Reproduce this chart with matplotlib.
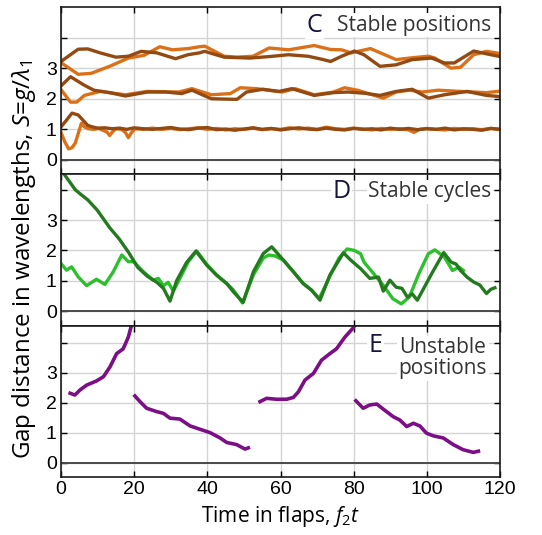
import matplotlib
matplotlib.use("Agg")
import matplotlib.pyplot as plt

# ---- panel C: stable positions (three pairs of wings) ----
c_top_dark_t = [0, 4.7, 7.3, 10.7, 15, 18.4, 21.9, 26.2, 31.3, 34.7, 37.8, 39.3, 44.6, 51.6, 57, 62.2,
                67.5, 71, 73.7, 76.7, 80.2, 82.8, 87.2, 91.6, 96, 101.3, 104.8, 107.5, 112.8, 116.3, 120]
c_top_dark_S = [3.22, 3.62, 3.63, 3.5, 3.36, 3.39, 3.55, 3.5, 3.31, 3.44, 3.5, 3.55, 3.36, 3.33, 3.38, 3.44,
                3.39, 3.3, 3.22, 3.39, 3.56, 3.44, 3.06, 3.11, 3.28, 3.33, 3.17, 3.17, 3.56, 3.47, 3.38]

c_top_orange_t = [0, 4.7, 8.2, 13.3, 18.4, 22.7, 27, 30.5, 34.7, 37.8, 39.3, 44.6, 48, 52.5, 56.9, 62.2,
                  69.2, 73.7, 76.7, 79.3, 84.6, 91.6, 96, 100.4, 102.2, 106.6, 109.2, 112.8, 116.3, 120]
c_top_orange_S = [3.18, 2.8, 2.83, 3.06, 3.33, 3.42, 3.7, 3.6, 3.64, 3.7, 3.72, 3.39, 3.36, 3.39, 3.66, 3.6,
                  3.74, 3.61, 3.6, 3.5, 3.64, 3.28, 3.34, 3.39, 3.33, 3.0, 3.03, 3.44, 3.55, 3.48]

c_mid_dark_t = [0, 2.6, 6.4, 9, 13.3, 17.6, 23.6, 28.7, 33, 35.8, 41.1, 48.1, 50.7, 55.2, 59.6, 63.1,
                69.2, 74.5, 78.4, 83, 87.2, 91.6, 96, 100.4, 104.8, 111, 116.3, 120]
c_mid_dark_S = [2.42, 2.72, 2.44, 2.28, 2.2, 2.09, 2.22, 2.22, 2.17, 2.28, 2.0, 1.98, 2.22, 2.31, 2.24, 2.33,
                2.11, 2.2, 2.22, 2.18, 2.11, 2.24, 2.31, 2.02, 2.13, 2.24, 2.11, 2.07]

c_mid_orange_t = [0, 2.6, 4.3, 6.4, 10.7, 17.6, 23.6, 32.2, 35.8, 41.1, 46.3, 49, 53.4, 60.4, 64,
                  69.2, 74.5, 77.5, 81, 88.1, 91.6, 95.2, 98.7, 103.1, 109.2, 116.3, 120]
c_mid_orange_S = [2.3, 1.89, 1.89, 2.11, 2.24, 2.13, 2.24, 2.22, 2.33, 2.13, 2.17, 2.36, 2.33, 2.22, 2.33,
                  2.13, 2.22, 2.36, 2.28, 2.02, 2.22, 2.28, 2.22, 2.28, 2.24, 2.2, 2.25]

c_low_dark_t = [0, 1.5, 3, 4.7, 6, 7.3, 8.6, 10, 12, 14, 16, 18, 20, 22.5, 25, 27.5, 30, 32.5, 35, 37.5,
                40, 42.5, 45, 47.5, 50, 52.5, 55, 57.5, 60, 62.5, 65, 67.5, 70, 72.5, 75, 77.5, 80, 82.5,
                85, 87.5, 90, 92.5, 95, 97.5, 100, 102.5, 105, 107.5, 110, 112.5, 115, 117.5, 120]
c_low_dark_S = [1.08, 1.3, 1.53, 1.47, 1.3, 1.13, 1.08, 1.04, 1.05, 1.02, 1.04, 1.0, 1.05, 1.02, 1.0, 1.03,
                1.06, 1.01, 0.99, 1.04, 1.06, 0.99, 1.01, 0.97, 1.01, 1.05, 1.0, 1.03, 0.98, 1.02, 1.05,
                1.01, 0.99, 1.04, 1.0, 0.98, 1.03, 1.0, 1.02, 0.98, 1.04, 1.0, 1.03, 0.99, 1.02, 1.0, 1.04,
                0.98, 1.02, 1.0, 0.97, 1.03, 1.0]

c_low_orange_t = [0, 1, 2.1, 3, 3.9, 4.8, 5.6, 6.4, 7.5, 9, 10.3, 11.6, 12.5, 13.3, 14.1, 15, 16.5, 17.6,
                  18.4, 19.2, 20.2, 22.5, 25, 27.5, 30, 32.5, 35, 37.5, 40, 42.5, 45, 47.5, 50, 52.5, 55,
                  57.5, 60, 62.5, 65, 67.5, 70, 72.5, 75, 77.5, 80, 82.5, 85, 87.5, 90, 92.5, 95, 96.5,
                  98, 100, 102.5, 105, 107.5, 110, 112.5, 115, 117.5, 120]
c_low_orange_S = [0.9, 0.6, 0.36, 0.4, 0.55, 0.9, 1.2, 1.08, 1.02, 1.0, 1.03, 0.96, 0.92, 0.8, 0.92, 1.02,
                  1.0, 0.9, 0.73, 0.88, 1.02, 1.0, 1.04, 1.0, 1.03, 0.99, 1.02, 1.05, 1.0, 1.03, 0.98, 1.02,
                  1.0, 1.04, 0.99, 1.02, 1.0, 1.05, 1.01, 1.04, 1.0, 1.07, 1.02, 1.0, 1.04, 1.01, 0.98,
                  1.03, 1.0, 1.02, 0.98, 0.9, 1.0, 1.03, 1.0, 0.98, 1.03, 1.0, 1.02, 0.99, 1.03, 1.0]

# ---- panel D: stable cycles ----
d_dark_t = [0.6, 3.9, 5.6, 7.3, 9.9, 13.3, 15.9, 18.4, 21, 23.6, 26.2, 28, 29.8, 31.6, 34.3, 36.9,
            39.8, 42.5, 45.3, 47.1, 49.8, 52.6, 55.3, 57.6, 60.8, 63.5, 66.2, 68.5, 70.8, 73.5, 77.2,
            79.3, 81.9, 84.4, 86.8, 88.1, 89.9, 91.6, 93.2, 94.7, 96, 97.4, 99.6, 101.3, 104.6, 106.6,
            108, 109.2, 111, 112.8, 114.5, 116.3, 117.5, 118.6]
d_dark_S = [4.56, 4.0, 3.83, 3.67, 3.33, 2.75, 2.38, 1.95, 1.44, 1.15, 0.95, 0.75, 0.33, 1.0, 1.6, 1.98,
            1.52, 1.19, 0.91, 0.64, 0.29, 1.3, 1.9, 2.12, 1.68, 1.3, 0.91, 0.69, 0.36, 1.19, 1.92,
            1.67, 1.4, 1.08, 1.12, 0.66, 1.02, 0.79, 0.75, 0.46, 0.57, 0.36, 0.85, 1.23, 1.93, 1.62,
            1.55, 1.34, 1.12, 0.96, 0.86, 0.58, 0.72, 0.77]

d_light_t = [0, 1.5, 2.9, 4.7, 7, 9.7, 12, 14.3, 16.6, 18.4, 19.8, 22.5, 25.2, 26.6, 28, 29.3, 30.7,
             32.5, 34.8, 37.1, 39.8, 42.5, 45.3, 47.1, 49.6, 52.6, 55.3, 56.8, 58.5, 60.8, 63.5, 66.2,
             68.5, 70.6, 73.5, 76, 78.2, 80.2, 81.9, 82.8, 85.5, 88.1, 90.7, 93, 95.2, 97.8, 100.4,
             102.2, 104.8, 107, 108.8, 110]
d_light_S = [1.57, 1.35, 1.46, 1.13, 0.84, 1.05, 0.88, 1.3, 1.85, 1.63, 1.63, 1.3, 1.02, 1.08, 0.84,
             0.95, 0.66, 1.08, 1.63, 1.98, 1.55, 1.19, 0.91, 0.7, 0.27, 1.2, 1.75, 1.85, 1.82, 1.68,
             1.3, 0.91, 0.69, 0.42, 1.15, 1.75, 2.05, 2.0, 1.89, 1.62, 1.23, 0.85, 0.41, 0.24, 0.46,
             1.23, 1.89, 2.02, 1.78, 1.34, 1.45, 1.34]

# ---- panel E: unstable positions (four separate runs) ----
e_runs_t = [
    [2.5, 3.8, 5.2, 7, 9.7, 11.6, 13.4, 15.2, 17, 18.4, 19.3],
    [20.2, 21.6, 23.4, 26.1, 28, 29.8, 32.5, 35.3, 38, 40.7, 43.5, 45.3, 48, 50.3, 51.2],
    [54.4, 56.2, 58.9, 61.7, 63.5, 64.9, 66.7, 69, 71.2, 73.5, 75.3, 77.6, 79.9, 80.3],
    [80.6, 82.6, 84.4, 86.3, 88.1, 90.8, 92.6, 94.5, 96.3, 98.1, 99.9, 101.8, 104.5, 107.2,
     109.9, 112.7, 114.1],
]
e_runs_S = [
    [2.32, 2.26, 2.43, 2.59, 2.73, 2.87, 3.2, 3.64, 3.8, 4.19, 4.6],
    [2.23, 2.04, 1.82, 1.71, 1.65, 1.49, 1.46, 1.23, 1.12, 1.01, 0.83, 0.68, 0.61, 0.46, 0.5],
    [2.04, 2.15, 2.12, 2.12, 2.18, 2.37, 2.76, 2.98, 3.42, 3.64, 3.8, 4.19, 4.5, 4.6],
    [2.07, 1.82, 1.93, 1.96, 1.79, 1.54, 1.43, 1.21, 1.32, 1.23, 0.99, 0.9, 0.83, 0.61,
     0.44, 0.35, 0.39],
]

xticks = [0, 20, 40, 60, 80, 100, 120]
yticks = [0, 1, 2, 3, 4]
ytick_labels = ["0", "1", "2", "3", ""]

dark_brown = "#934a12"
orange = "#dc7018"
dark_green = "#237a1f"
light_green = "#2cc02c"
purple = "#7d0f86"

plt.rcParams["font.family"] = ["Liberation Sans", "DejaVu Sans"]
plt.rcParams["mathtext.fontset"] = "custom"
plt.rcParams["mathtext.it"] = "Open Sans:italic"
plt.rcParams["mathtext.rm"] = "Open Sans"
label_font = ["Open Sans", "DejaVu Sans"]

fig = plt.figure(figsize=(5.42, 5.35), dpi=100)
left, width = 61 / 542, 439 / 542
ax_c = fig.add_axes([left, 1 - 174 / 535, width, 167 / 535])
ax_d = fig.add_axes([left, 1 - 326 / 535, width, 152 / 535])
ax_e = fig.add_axes([left, 1 - 477 / 535, width, 151 / 535])


def style_axis(ax, ylim, show_x):
    ax.set_xlim(0, 120)
    ax.set_ylim(*ylim)
    ax.set_xticks(xticks)
    ax.set_yticks(yticks)
    ax.set_yticklabels(ytick_labels)
    ax.grid(True, color="#d4d4d4", linewidth=1.0)
    ax.set_axisbelow(True)
    ax.axhline(0, color="#4a4a4a", linewidth=1.4, zorder=1)
    ax.tick_params(direction="in", length=4, width=1.0, top=True, right=True,
                   labelsize=14, pad=3)
    if not show_x:
        ax.tick_params(labelbottom=False)
    for sp in ax.spines.values():
        sp.set_linewidth(1.2)
        sp.set_color("#1a1a1a")


def panel_label(ax, letter, letter_xy, text, text_xy, ha="right"):
    box = dict(facecolor="white", edgecolor="none", pad=1.0)
    ax.text(*letter_xy, letter, transform=ax.transAxes, ha="center", va="center",
            fontsize=18, color="#14143c", family=label_font, bbox=box, zorder=5)
    ax.text(*text_xy, text, transform=ax.transAxes, ha=ha, va="center",
            fontsize=15, color="#333333", family=label_font, bbox=box, zorder=5,
            multialignment="center", linespacing=1.0)


# C
style_axis(ax_c, (-0.46, 5.0), False)
lw = 2.4
ax_c.plot(c_top_orange_t, c_top_orange_S, color=orange, lw=lw)
ax_c.plot(c_mid_orange_t, c_mid_orange_S, color=orange, lw=lw)
ax_c.plot(c_low_orange_t, c_low_orange_S, color=orange, lw=lw)
ax_c.plot(c_top_dark_t, c_top_dark_S, color=dark_brown, lw=lw)
ax_c.plot(c_mid_dark_t, c_mid_dark_S, color=dark_brown, lw=lw)
ax_c.plot(c_low_dark_t, c_low_dark_S, color=dark_brown, lw=lw)
panel_label(ax_c, "C", (0.577, 0.89), "Stable positions", (0.981, 0.89))

# D
style_axis(ax_d, (-0.49, 4.52), False)
ax_d.plot(d_light_t, d_light_S, color=light_green, lw=lw)
ax_d.plot(d_dark_t, d_dark_S, color=dark_green, lw=lw)
panel_label(ax_d, "D", (0.638, 0.883), "Stable cycles", (0.981, 0.883))

# E
style_axis(ax_e, (-0.47, 4.56), True)
for t, s in zip(e_runs_t, e_runs_S):
    ax_e.plot(t, s, color=purple, lw=2.6)
panel_label(ax_e, "E", (0.717, 0.869), "Unstable\npositions", (0.87, 0.786), ha="center")
ax_e.set_xlabel("Time in flaps, $f_2t$", fontsize=15, family=label_font, labelpad=4)

fig.text(0.045, 0.515, r"Gap distance in wavelengths, $S$=$g/\lambda_1$", rotation=90,
         ha="center", va="center", fontsize=17.4, family=label_font)

fig.savefig("out.png", dpi=100)
